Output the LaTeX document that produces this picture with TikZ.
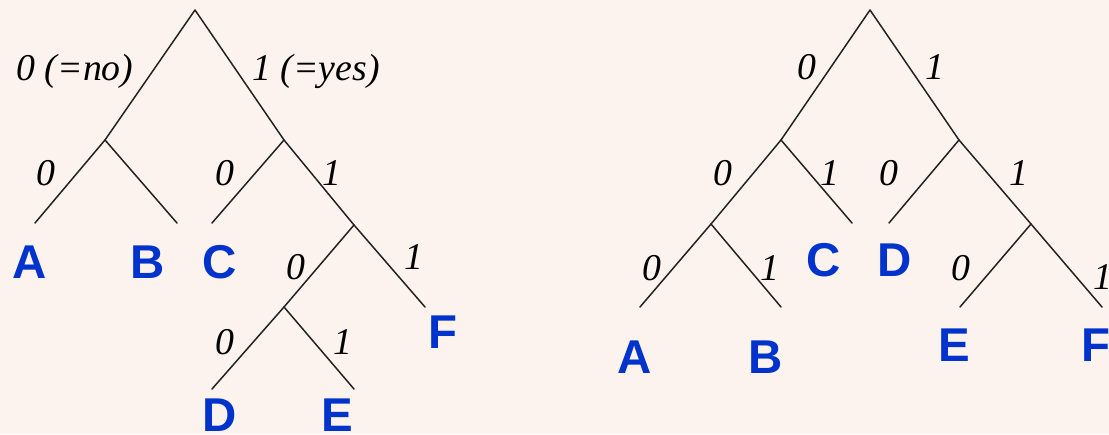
\documentclass[tikz,border=0pt]{standalone}
\usepackage{fontspec}
\setmainfont{Liberation Serif}
\setsansfont{Liberation Sans}
\definecolor{bgpink}{RGB}{253,243,238}
\definecolor{leafblue}{RGB}{0,51,204}
\definecolor{branchgray}{RGB}{34,34,34}

\begin{document}
\begin{tikzpicture}[x=0.02cm, y=-0.02cm,
  branch/.style={line width=0.85pt, draw=branchgray, line cap=round},
  leaf/.style={text=leafblue, inner sep=0pt, font=\sffamily\bfseries\fontsize{27}{27}\selectfont},
  bit/.style={inner sep=0pt, font=\itshape\fontsize{21.5}{22}\selectfont}]

     % Fondo y marco
     \fill[bgpink] (0,0) rectangle (1109,434);
     \useasboundingbox (0,0) rectangle (1109,434);

     % Primer arbol: vertices internos
     \coordinate (L) at (195,10);
     \coordinate (L0) at (105,140);
     \coordinate (L1) at (284,140);
     \coordinate (L11) at (354,225);
     \coordinate (L110) at (284,307);

     % Primer arbol: extremos de las hojas
     \coordinate (L00) at (35,223);
     \coordinate (L01) at (177,223);
     \coordinate (L10) at (212,223);
     \coordinate (L111) at (425,307);
     \coordinate (L1100) at (212,389);
     \coordinate (L1101) at (354,389);

     % Primer arbol: letras de las hojas
     \node[leaf] (LA) at (30,262) {A};
     \node[leaf] (LB) at (148,262) {B};
     \node[leaf] (LC) at (220,262) {C};
     \node[leaf] (LF) at (443,332) {F};
     \node[leaf] (LD) at (220,415) {D};
     \node[leaf] (LE) at (337,415) {E};

     % Primer arbol: aristas
     \draw[branch] (L) -- (L0);
     \draw[branch] (L) -- (L1);
     \draw[branch] (L0) -- (L00);
     \draw[branch] (L0) -- (L01);
     \draw[branch] (L1) -- (L10);
     \draw[branch] (L1) -- (L11);
     \draw[branch] (L11) -- (L110);
     \draw[branch] (L11) -- (L111);
     \draw[branch] (L110) -- (L1100);
     \draw[branch] (L110) -- (L1101);

     % Primer arbol: etiquetas de las aristas
     \node[bit, anchor=base] (bL0) at (75,80) {0 (=no)};
     \node[bit, anchor=base] (bL1) at (316,80) {1 (=yes)};
     \node[bit] (bL00) at (46,173) {0};
     \node[bit] (bL10) at (225,173) {0};
     \node[bit] (bL11) at (332,173) {1};
     \node[bit] (bL110) at (296,267) {0};
     \node[bit] (bL111) at (414,257) {1};
     \node[bit] (bL1100) at (225,342) {0};
     \node[bit] (bL1101) at (343,342) {1};

     % Segundo arbol: vertices internos
     \coordinate (R) at (870,10);
     \coordinate (R0) at (781,140);
     \coordinate (R1) at (959,140);
     \coordinate (R00) at (711,224);
     \coordinate (R11) at (1031,224);

     % Segundo arbol: extremos de las hojas
     \coordinate (R000) at (640,307);
     \coordinate (R001) at (781,307);
     \coordinate (R01) at (852,223);
     \coordinate (R10) at (889,223);
     \coordinate (R110) at (960,307);
     \coordinate (R111) at (1102,307);

     % Segundo arbol: letras de las hojas
     \node[leaf] (RC) at (824,260) {C};
     \node[leaf] (RD) at (895,260) {D};
     \node[leaf] (RA) at (635,357) {A};
     \node[leaf] (RB) at (766,357) {B};
     \node[leaf] (RE) at (954,345) {E};
     \node[leaf] (RF) at (1096,345) {F};

     % Segundo arbol: aristas
     \draw[branch] (R) -- (R0);
     \draw[branch] (R) -- (R1);
     \draw[branch] (R0) -- (R00);
     \draw[branch] (R0) -- (R01);
     \draw[branch] (R00) -- (R000);
     \draw[branch] (R00) -- (R001);
     \draw[branch] (R1) -- (R10);
     \draw[branch] (R1) -- (R11);
     \draw[branch] (R11) -- (R110);
     \draw[branch] (R11) -- (R111);

     % Segundo arbol: etiquetas de las aristas
     \node[bit] (bR0) at (807,67) {0};
     \node[bit] (bR1) at (935,67) {1};
     \node[bit] (bR00) at (723,173) {0};
     \node[bit] (bR01) at (830,173) {1};
     \node[bit] (bR10) at (889,173) {0};
     \node[bit] (bR11) at (1019,173) {1};
     \node[bit] (bR000) at (652,268) {0};
     \node[bit] (bR001) at (770,268) {1};
     \node[bit] (bR110) at (961,268) {0};
     \node[bit] (bR111) at (1103,277) {1};

   \end{tikzpicture}
\end{document}
